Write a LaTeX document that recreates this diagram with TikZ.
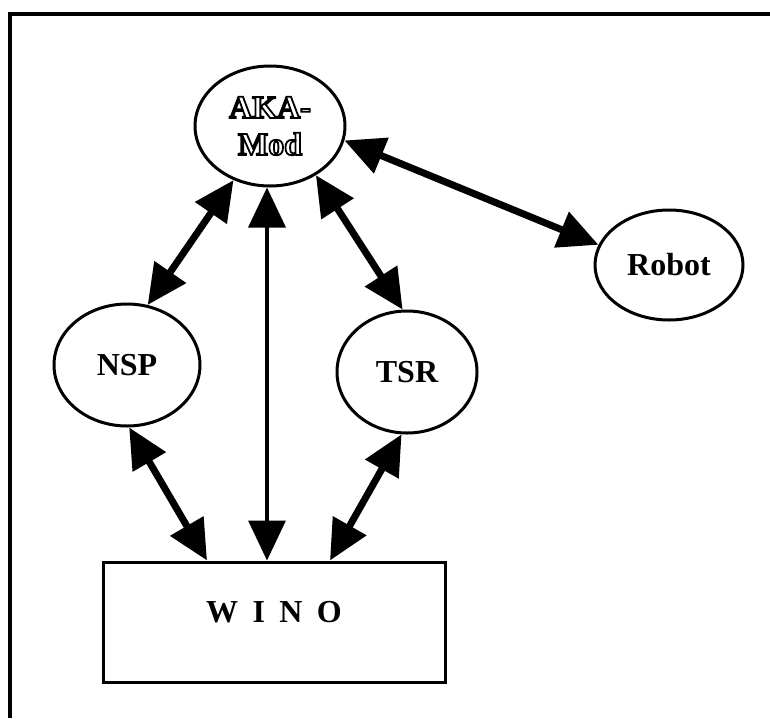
\documentclass[tikz,border=0pt]{standalone}
\usepackage{fontspec}
\setmainfont{Liberation Serif}
\usetikzlibrary{arrows.meta,calc,shapes.geometric}
\tikzset{
	module/.style={draw,ellipse,line width=3pt,inner sep=0pt,align=center,font=\fontsize{32}{37}\selectfont\bfseries},
	winobox/.style={draw,rectangle,line width=3pt,inner sep=0pt,text height=23pt,text depth=23pt,font=\fontsize{32}{37}\selectfont\bfseries},
	link/.style={{Triangle[length=40pt,width=37pt]}-{Triangle[length=40pt,width=37pt]},line width=7pt},
	thinlink/.style={link,line width=3.5pt}
}
\newcommand{\hollowtext}[1]{\special{pdf:literal direct 1.8 w 1 Tr}#1\special{pdf:literal direct 0 Tr}}

\begin{document}
\begin{tikzpicture}[x=1pt,y=-1pt]
		\useasboundingbox (0,0) rectangle (770,718);
		\draw[line width=3.5pt] (10,718)--(10,14)--(770,14);
		\node[module,minimum width=150pt,minimum height=120pt] (aka) at (270,126) {\hollowtext{AKA-}\\\hollowtext{Mod}};
		\node[module,minimum width=146pt,minimum height=122pt] (nsp) at (127,365) {NSP};
		\node[module,minimum width=140pt,minimum height=122pt] (tsr) at (407,372) {TSR};
		\node[module,minimum width=148pt,minimum height=110pt] (robot) at (669,265) {Robot};
		\node[winobox,minimum width=342pt,minimum height=120pt] (wino) at (274,622) {W\hspace{.45em}I\hspace{.45em}N\hspace{.45em}O};
		\coordinate (wl) at ($(wino.north)+(-67,0)$);
		\coordinate (wm) at ($(wino.north)+(-7,0)$);
		\coordinate (wr) at ($(wino.north)+(56,0)$);
			\draw[link] (aka.236)--(nsp.71);
			\draw[link] (aka.313)--(tsr.94);
			\draw[link] (aka.349)--(robot.164);
			\draw[thinlink] (aka.south -| wm)--(wm);
			\draw[link] (nsp.272)--(wl);
			\draw[link] (tsr.265)--(wr);
		\end{tikzpicture}
\end{document}
